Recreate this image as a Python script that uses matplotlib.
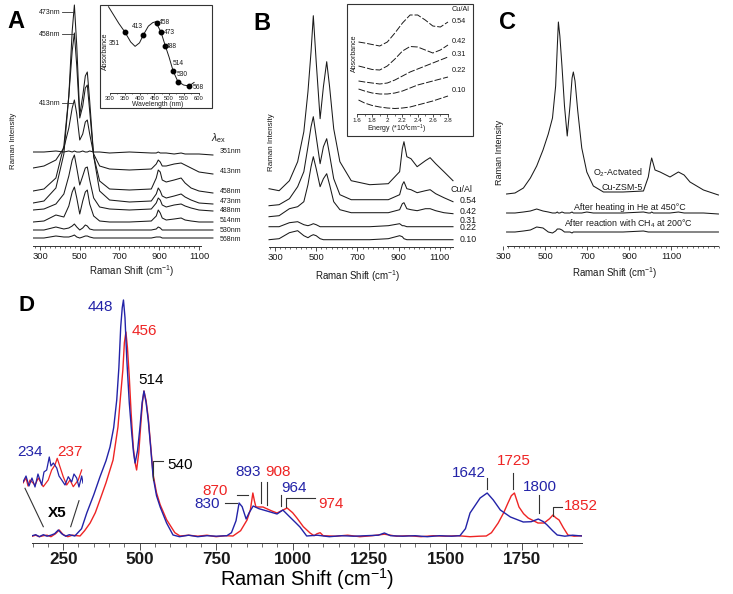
import numpy as np
import matplotlib.pyplot as plt
from matplotlib.lines import Line2D
from matplotlib.patches import Rectangle
from matplotlib.ticker import FixedLocator

plt.rcParams['font.family'] = ['Liberation Sans', 'DejaVu Sans']
plt.rcParams['mathtext.fontset'] = 'custom'
plt.rcParams['mathtext.rm'] = 'Liberation Sans'
plt.rcParams['mathtext.it'] = 'Liberation Sans:italic'
plt.rcParams['mathtext.bf'] = 'Liberation Sans:bold'

# ---------------- data ----------------
# panel A: spectra at several excitation wavelengths (offset traces)
A_shift = [265, 320, 380, 420, 445, 462, 473, 485, 500, 515, 528, 538, 550, 570, 600,
           650, 750, 860, 885, 895, 905, 915, 935, 975, 1010, 1030, 1060, 1100, 1170]
A_351 = [94, 94, 95, 94, 95, 94, 95, 94, 94, 95, 94, 94, 95, 94, 94, 93, 94, 93, 93, 94, 93, 93, 93, 92, 93, 92, 92, 92, 91]
A_413 = [78, 80, 86, 98, 118, 138, 146, 132, 106, 112, 124, 126, 112, 92, 80, 77, 76, 77, 82, 86, 84, 80, 80, 82, 83, 81, 78, 74, 72]
A_458 = [55, 57, 68, 100, 150, 195, 213, 180, 128, 140, 158, 161, 135, 90, 65, 57, 56, 57, 68, 76, 74, 66, 64, 66, 68, 63, 58, 55, 53]
A_473 = [43, 45, 58, 92, 150, 215, 241, 200, 131, 150, 170, 174, 145, 90, 55, 46, 44, 45, 52, 58, 55, 50, 48, 50, 52, 49, 46, 43, 42]
A_488 = [36, 37, 42, 52, 70, 86, 91, 78, 61, 70, 78, 79, 66, 48, 39, 37, 36, 37, 43, 48, 46, 41, 39, 41, 42, 40, 38, 36, 35]
A_514 = [24, 25, 31, 29, 40, 54, 59, 48, 32, 45, 54, 56, 42, 30, 25, 24, 24, 25, 30, 36, 33, 28, 26, 27, 28, 26, 25, 24, 24]
A_530 = [16, 16, 19, 17, 18, 20, 22, 19, 16, 18, 21, 20, 17, 16, 16, 16, 16, 16, 17, 19, 18, 16, 16, 16, 16, 16, 16, 16, 16]
A_568 = [8, 8, 10, 9, 9, 10, 11, 9, 8, 9, 10, 10, 9, 8, 8, 8, 8, 8, 9, 9, 9, 8, 8, 8, 8, 8, 8, 8, 8]
A_traces = [A_351, A_413, A_458, A_473, A_488, A_514, A_530, A_568]
A_names = ['351nm', '413nm', '458nm', '473nm', '488nm', '514nm', '530nm', '568nm']

# panel A inset: absorbance vs wavelength
absA_wl = [295, 330, 351, 370, 385, 400, 413, 430, 445, 455, 458, 473, 488, 500, 514, 530, 550, 568, 585]
absA_val = [0.98, 0.79, 0.69, 0.58, 0.53, 0.57, 0.66, 0.76, 0.80, 0.81, 0.79, 0.69, 0.53, 0.41, 0.25, 0.13, 0.09, 0.08, 0.12]
exc_wl = [351, 413, 458, 473, 488, 514, 530, 568]
exc_abs = [0.69, 0.66, 0.79, 0.69, 0.53, 0.25, 0.13, 0.08]

# panel B: spectra for several Cu/Al ratios
B_shift = [271, 320, 370, 410, 440, 460, 475, 486, 500, 519, 535, 551, 565, 585, 615,
           670, 760, 850, 905, 918, 926, 940, 960, 990, 1030, 1053, 1080, 1120, 1164]
B_054 = [58, 56, 66, 85, 115, 155, 195, 231, 185, 128, 160, 185, 160, 118, 85, 66, 62, 63, 75, 98, 105, 90, 88, 80, 86, 89, 83, 75, 66]
B_042 = [41, 42, 48, 60, 75, 100, 120, 130, 110, 83, 100, 108, 92, 68, 52, 47, 47, 47, 52, 62, 65, 58, 57, 54, 56, 57, 53, 49, 45]
B_031 = [30, 31, 38, 40, 45, 62, 80, 90, 78, 60, 68, 73, 62, 45, 37, 34, 34, 34, 37, 43, 44, 38, 37, 36, 38, 38, 36, 34, 33]
B_022 = [20, 20, 24, 25, 22, 21, 22, 23, 22, 20, 20, 20, 20, 20, 20, 20, 20, 21, 23, 21, 21, 20, 20, 20, 20, 20, 20, 20, 20]
B_010 = [7, 8, 14, 16, 11, 9, 11, 12, 11, 8, 7, 7, 7, 7, 7, 7, 7, 8, 11, 10, 8, 7, 7, 7, 7, 7, 7, 7, 7]
B_traces = [B_054, B_042, B_031, B_022, B_010]
cu_al = ['0.54', '0.42', '0.31', '0.22', '0.10']

# panel B inset: absorbance vs energy
enB = [1.62, 1.7, 1.8, 1.9, 2.0, 2.1, 2.2, 2.3, 2.4, 2.5, 2.6, 2.7, 2.8]
absB_054 = [72, 71, 69.5, 68, 72, 81, 91, 99, 99, 94, 88, 87, 92]
absB_042 = [48, 46.5, 44.5, 44, 48, 55, 63, 67.5, 67, 64, 61, 64, 69]
absB_031 = [33, 32, 31, 30, 31, 34, 38, 42, 45, 48, 51, 54, 57]
absB_022 = [25, 23, 21, 20, 20, 21, 23, 26, 29, 31, 33, 35, 37]
absB_010 = [14, 11, 8.5, 7, 6, 5.5, 6, 7, 9, 11, 13, 15.5, 18]
absB_traces = [absB_054, absB_042, absB_031, absB_022, absB_010]

# panel C: activated sample, after He treatment, after CH4 reaction
C_shift = [317, 357, 397, 430, 460, 490, 515, 535, 550, 558, 563, 570, 580, 592, 605, 618, 628, 634, 642,
           655, 674, 698, 729, 777, 870, 967, 990, 1000, 1006, 1014, 1022, 1046, 1093, 1133, 1160, 1188, 1252, 1323]
C_o2 = [52, 53, 58, 68, 80, 96, 112, 128, 160, 200, 224, 210, 180, 140, 110, 140, 168, 174, 165,
        135, 98, 74, 60, 54, 54, 55, 69, 82, 88, 82, 76, 74, 69, 74, 71, 64, 56, 51]
C_he = [33, 33, 34, 35, 37, 35, 34, 33, 33, 34, 33, 33, 34, 33, 33, 33, 34, 33, 33,
        33, 33, 34, 33, 33, 33, 34, 33, 33, 34, 33, 33, 33, 33, 34, 33, 33, 33, 32]
C_ch4 = [14, 14, 15, 16, 19, 18, 14, 13, 15, 17, 17, 17, 16, 14, 14, 14, 13, 14, 14,
         14, 14, 14, 14, 14, 14, 15, 14, 14, 14, 14, 14, 14, 14, 14, 14, 14, 14, 14]

# panel D: two overlaid spectra (blue / red)
D_blue_shift = [149, 160, 172, 185, 197, 210, 222, 234, 245, 258, 270, 288, 310, 327, 350, 370, 390, 403, 415, 425,
                432, 438, 443, 447, 452, 458, 466, 474, 480, 485, 493, 501, 508, 514, 521, 528, 536, 544, 555, 567,
                588, 609, 630, 660, 690, 720, 750, 785, 800, 815, 825, 835, 848, 858, 871, 890, 916, 949, 968, 991,
                1010, 1024, 1046, 1080, 1120, 1160, 1200, 1240, 1280, 1300, 1320, 1360, 1400, 1440, 1480, 1520, 1547,
                1565, 1580, 1613, 1636, 1656, 1679, 1712, 1754, 1780, 1803, 1820, 1832, 1850, 1865, 1890, 1915, 1946]
D_blue_int = [7, 8, 6, 8, 6.5, 7.5, 9, 12.7, 9, 6.5, 8, 6.7, 14, 29.7, 48, 65.7, 82, 95.7, 115, 142.7,
              175, 215.7, 235, 242.7, 225, 182.7, 140, 109.7, 90, 79.7, 92, 115.7, 140, 151.7, 140, 122.7, 95, 65.7, 47, 35.7,
              19.7, 7.7, 6, 7.5, 6, 7, 6.5, 7, 10, 22, 39.7, 36, 23.7, 30, 36.7, 34, 31.7, 28.7, 32.7, 25.7,
              20, 15.7, 6.7, 7.5, 6, 7, 6.5, 7, 7.5, 9.7, 7, 6.5, 7, 6, 7, 6.5, 7,
              14, 29.7, 44.7, 49.7, 42.7, 32.7, 25.7, 20.7, 21, 23.7, 21, 17.7, 12, 7.7, 6.5, 7.5, 6.7]
D_red_shift = [149, 160, 172, 185, 197, 210, 225, 237, 250, 265, 280, 305, 320, 338, 355, 370, 390, 413, 429, 437,
               445, 450, 455, 460, 466, 472, 479, 485, 490, 497, 503, 509, 514, 521, 528, 536, 544, 555, 567, 588,
               615, 632, 660, 690, 720, 750, 780, 805, 830, 851, 862, 870, 875, 880, 903, 930, 949, 982, 1000, 1014,
               1035, 1057, 1070, 1080, 1090, 1100, 1140, 1180, 1220, 1260, 1300, 1340, 1380, 1420, 1460, 1500, 1540,
               1580, 1610, 1633, 1650, 1672, 1690, 1704, 1715, 1725, 1740, 1755, 1770, 1802, 1822, 1840, 1851, 1860,
               1871, 1885, 1900, 1920, 1946]
D_red_int = [6.5, 7.5, 6, 7, 7.5, 6, 9, 12.7, 8, 6, 7.5, 6.7, 12, 19.7, 30, 42.7, 60, 82.7, 115.7, 145,
             172.7, 200, 210.7, 195, 165.7, 130, 95.7, 80, 72.7, 90, 115.7, 140, 151.7, 142, 125, 97, 68, 50, 38, 23,
             10, 6.7, 7.5, 6.5, 7.5, 6, 7, 6.7, 12, 22.7, 33, 49.7, 42, 35.7, 35.7, 32, 29.7, 34.7, 30, 24.7,
             16, 9.7, 7, 9, 10, 7, 6.5, 7.5, 6, 7, 8.5, 6.5, 7, 6, 7, 6.5, 7,
             6, 6.5, 6.7, 10, 19.7, 30, 39.7, 47, 49.7, 35.7, 29, 24.7, 19.7, 19.7, 24, 27.7, 25,
             22.7, 15, 7.7, 6.5, 7]

# panel D, x5 magnified low-frequency region
X5_blue_shift = [184, 188.8, 193.5, 198.2, 203, 207.7, 213.6, 217.2, 221.5, 225.6, 228.3, 232, 237.4, 241,
                 245.3, 250.5, 255.7, 261.1, 264.7, 269, 272.6, 276.9, 279]
X5_blue_int = [13, 19, 9, 17, 8, 21, 10, 23, 25, 38, 29, 32, 27, 19, 15, 10, 18.3, 13, 21, 17, 8, 19, 12]
X5_red_shift = [184, 188.8, 191.9, 195.1, 203, 208.2, 216.1, 224, 229.4, 234.6, 238.2, 242.5, 247.7, 253.2,
                258.4, 263.6, 271.5, 276.9]
X5_red_int = [12, 17, 9, 15, 10, 17, 8.3, 15, 25, 30, 36.7, 28.3, 18.3, 10, 15, 8.3, 15, 25]

BLUE = '#2323a8'
RED = '#ee2424'
INK = '#1a1a1a'
GREY = '#333333'

W, H = 733, 594
fig = plt.figure(figsize=(W / 100, H / 100), dpi=100)


def px_axes(x0, y0, x1, y1):
    # axes placed by pixel box (top-left origin)
    ax = fig.add_axes([x0 / W, 1 - y1 / H, (x1 - x0) / W, (y1 - y0) / H])
    ax.patch.set_alpha(0)
    return ax


def note(x, y, s, **kw):
    kw.setdefault('ha', 'center')
    kw.setdefault('va', 'center')
    fig.text(x / W, 1 - y / H, s, **kw)


def leader(xs, ys, color=GREY, lw=0.8):
    fig.add_artist(Line2D([x / W for x in xs], [1 - y / H for y in ys], color=color, lw=lw))


def ruler(ax, xlim, top, bounds, major, minor, size, length=3.0, bold=False, pad=1.2):
    ax.set_xlim(*xlim)
    ax.set_ylim(0, top)
    for side in ('top', 'right', 'left'):
        ax.spines[side].set_visible(False)
    ax.spines['bottom'].set_bounds(*bounds)
    ax.spines['bottom'].set_linewidth(0.7)
    ax.spines['bottom'].set_color(GREY)
    ax.set_yticks([])
    ax.xaxis.set_major_locator(FixedLocator(major))
    ax.xaxis.set_minor_locator(FixedLocator(minor))
    ax.tick_params(axis='x', which='major', length=length, width=0.6, labelsize=size, pad=pad,
                   color=GREY, labelcolor=INK)
    ax.tick_params(axis='x', which='minor', length=length * 0.6, width=0.5, color=GREY)
    if bold:
        for t in ax.get_xticklabels():
            t.set_fontweight('bold')


raman_major = [300, 500, 700, 900, 1100]

# ---------------- panel A ----------------
axA = px_axes(33, 0, 215, 246)
ruler(axA, (264.8, 1180.5), 246, (265, 1110), raman_major, np.arange(275, 1101, 25), 6.8)
for tr in A_traces:
    axA.plot(A_shift, tr, color=INK, lw=0.75)
A_label_y = [151.7, 171.7, 191.7, 201.7, 210.7, 220.7, 230.7, 239.3]
for name, y in zip(A_names, A_label_y):
    note(220, y, name, ha='left', fontsize=5, color=INK)
note(219, 138, r'$\lambda_{\rm ex}$', fontsize=7.5, color=INK)
for name, y, x1 in [('473nm', 12.3, 72.7), ('458nm', 34, 73.3), ('413nm', 103.3, 71.7)]:
    note(60.5, y, name, ha='right', fontsize=5, color=INK)
    leader([61.7, x1], [y, y], lw=0.6)
note(16, 22, 'A', fontsize=17, fontweight='bold')
note(132, 271.5, r'Raman Shift (cm$^{-1}$)', fontsize=7, color=INK)
note(13.5, 141, 'Raman Intensity', rotation=90, fontsize=5.6, color=INK)

# inset A
fig.add_artist(Rectangle((100 / W, 1 - 108 / H), 112 / W, 103 / H, transform=fig.transFigure,
                         fill=False, lw=0.8, ec=GREY))
axAi = px_axes(106, 5, 205, 93)
ruler(axAi, (286.4, 622), 1.0, (300, 600), [300, 350, 400, 450, 500, 550, 600],
      np.arange(300, 601, 25), 4.2, length=1.5, pad=0.6)
axAi.plot(absA_wl, absA_val, color=INK, lw=0.7)
axAi.plot(exc_wl, exc_abs, 'o', color='black', ms=3.2)
label_offsets = [(-8, -8), (-4, 6), (5.5, 0.5), (6, -0.5), (4.5, 0), (3.6, 5.4), (3, 5), (6.5, -1.4)]
for wl, a, off in zip(exc_wl, exc_abs, label_offsets):
    axAi.annotate(str(wl), (wl, a), xytext=off, textcoords='offset points',
                  ha='center', va='center', fontsize=4.8, color=INK)
note(105, 51, 'Absorbance', rotation=90, fontsize=5, color=INK)
note(157.5, 104.8, 'Wavelength (nm)', fontsize=4.9, color=INK)

# ---------------- panel B ----------------
axB = px_axes(265, 0, 460, 246.7)
ruler(axB, (251.5, 1198), 246.7, (271, 1164), raman_major, np.arange(275, 1151, 25), 6.8)
for tr in B_traces:
    axB.plot(B_shift, tr, color=INK, lw=0.75)
for name, y in zip(cu_al, [200.8, 211, 220.5, 228, 239]):
    note(460, y, name, ha='left', fontsize=6.3, color=INK)
note(461, 190, 'Cu/Al', fontsize=6.4, color=INK)
note(262, 23, 'B', fontsize=17, fontweight='bold')
note(358, 276, r'Raman Shift (cm$^{-1}$)', fontsize=7, color=INK)
note(271.5, 142.5, 'Raman Intensity', rotation=90, fontsize=5.8, color=INK)

# inset B
fig.add_artist(Rectangle((347 / W, 1 - 136 / H), 126 / W, 132 / H, transform=fig.transFigure,
                         fill=False, lw=0.8, ec=GREY))
axBi = px_axes(352, 4, 452, 114)
ruler(axBi, (1.534, 2.853), 110, (1.6, 2.8), [1.6, 1.8, 2.0, 2.2, 2.4, 2.6, 2.8],
      np.arange(1.6, 2.81, 0.1), 4.5, length=1.8, pad=0.8)
axBi.set_xticklabels(['1.6', '1.8', '2', '2.2', '2.4', '2.6', '2.8'])
for tr in absB_traces:
    axBi.plot(enB, tr, color=INK, lw=0.7, dashes=(7, 2))
for name, y in zip(['Cu/Al'] + cu_al, [9.5, 21.7, 41.7, 54, 70, 90.7]):
    note(452, y, name, ha='left', fontsize=5.3, color=INK)
note(354, 53, 'Absorbance', rotation=90, fontsize=5, color=INK)
note(397, 129.5, r'Energy (*10$^{4}$cm$^{-1}$)', fontsize=5, color=INK)

# ---------------- panel C ----------------
axC = px_axes(503, 0, 722, 246)
ruler(axC, (300, 1340), 246, (317, 1323), raman_major, np.arange(325, 1326, 25), 6.8)
for tr in (C_o2, C_he, C_ch4):
    axC.plot(C_shift, tr, color=INK, lw=0.75)
note(507.5, 22.5, 'C', fontsize=17, fontweight='bold')
note(618, 173, r'O$_2$-Actvated', fontsize=6.4, color=INK)
note(622.5, 188, 'Cu-ZSM-5', fontsize=6.4, color=INK)
note(630, 208, u'After heating in He at 450\u00b0C', fontsize=6.4, color=INK)
note(628.5, 224, u'After reaction with CH$_4$ at 200\u00b0C', fontsize=6.4, color=INK)
note(615, 273, r'Raman Shift (cm$^{-1}$)', fontsize=7, color=INK)
note(500, 152, 'Raman Intensity', rotation=90, fontsize=6.5, color=INK)

# ---------------- panel D ----------------
axD = px_axes(32, 290, 582, 542.7)
ruler(axD, (148, 1946), 252.7, (148, 1946), [250, 500, 750, 1000, 1250, 1500, 1750],
      np.arange(150, 1946, 50), 12.3, length=5, bold=True)
axD.tick_params(axis='x', which='major', pad=1.8)
axD.plot(D_red_shift, D_red_int, color=RED, lw=1.0)
axD.plot(D_blue_shift, D_blue_int, color=BLUE, lw=1.0)

axX = px_axes(23, 450, 83, 495)
axX.set_xlim(184, 279)
axX.set_ylim(0, 45)
axX.axis('off')
axX.plot(X5_red_shift, X5_red_int, color=RED, lw=0.9)
axX.plot(X5_blue_shift, X5_blue_int, color=BLUE, lw=0.9)

note(27, 305, 'D', fontsize=16, fontweight='bold')
note(307, 579.5, r'Raman Shift (cm$^{-1}$)', fontsize=14.5, color='black')

d_notes = [('448', 100.3, 307.5, BLUE), ('456', 144, 330.5, RED), ('514', 151, 380.5, 'black'),
           ('540', 179.7, 465, 'black'), ('234', 29.7, 452, BLUE), ('237', 70.3, 451.5, RED),
           ('870', 215, 490.8, RED), ('830', 207.5, 504, BLUE), ('893', 248.3, 472, BLUE),
           ('908', 277.5, 472, RED), ('964', 294.5, 488, BLUE), ('974', 330.8, 504, RED),
           ('1642', 469.2, 472.8, BLUE), ('1725', 514, 461, RED), ('1800', 540.3, 487.3, BLUE),
           ('1852', 581.3, 506.5, RED)]
for s, x, y, c in d_notes:
    note(x, y, s, fontsize=11, color=c)
note(56.7, 513.3, 'X5', fontsize=11, fontweight='bold', color='black')

leader([152.7, 152.7, 163.3], [480, 461, 461])
leader([237.3, 248.3], [495, 495])
leader([225, 237.3], [502.7, 502.7])
leader([260.7, 260.7], [481.7, 503.3])
leader([267.3, 267.3], [481.7, 505])
leader([281, 281], [495, 506])
leader([286, 286, 315], [506.7, 498.3, 498.3])
leader([487.3, 487.3], [478.3, 489.3])
leader([513.3, 513.3], [473.3, 489.3])
leader([539.3, 539.3], [495, 513.3])
leader([553.3, 553.3, 561.7], [516, 506.7, 506.7])
leader([25, 43.3], [488.3, 526.7])
leader([79, 70.7], [500.7, 526.7])

fig.savefig('out.png', dpi=100)
